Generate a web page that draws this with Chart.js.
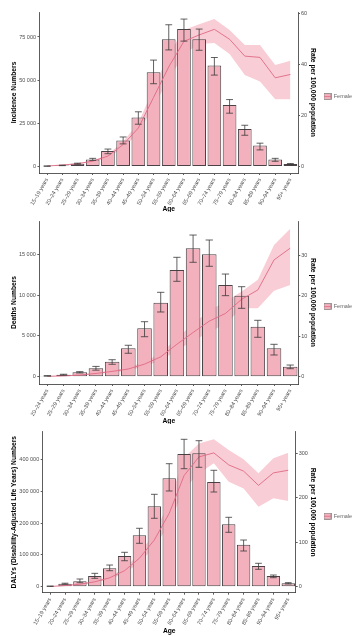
<!DOCTYPE html>
<html>
<head>
<meta charset="utf-8">
<script src="https://cdn.jsdelivr.net/npm/chart.js@4.4.1/dist/chart.umd.min.js"></script>
<style>
    body { margin: 0; background: #fff; }
    canvas { display: block; }
</style>
</head>
<body>
<canvas id="incidenceChart" width="359" height="212"></canvas>
<canvas id="deathsChart" width="359" height="212"></canvas>
<canvas id="dalysChart" width="359" height="212"></canvas>
<script>
// Age groups (deaths start at 20-24)
const ageGroups = ['15–19 years', '20–24 years', '25–29 years', '30–34 years', '35–39 years',
    '40–44 years', '45–49 years', '50–54 years', '55–59 years', '60–64 years', '65–69 years',
    '70–74 years', '75–79 years', '80–84 years', '85–89 years', '90–94 years', '95+ years'];
const deathAgeGroups = ageGroups.slice(1);

// Incidence
const incidence     = [100, 500, 1500, 4000, 8800, 15000, 28300, 54600, 73700, 79600, 73700, 58500, 35500, 21700, 12000, 4000, 1300];
const incidenceLow  = [60, 380, 1200, 3400, 7300, 13000, 24400, 47900, 67500, 72600, 67300, 52900, 30800, 18000, 9500, 2900, 1000];
const incidenceHigh = [140, 620, 1800, 4600, 10000, 17000, 31600, 61600, 82100, 85400, 79600, 63100, 38700, 23800, 13400, 4600, 1600];
const incidenceRate     = [0.1, 0.5, 1.0, 2.0, 4.0, 8.5, 15, 27, 39, 49, 51.5, 53.7, 49.8, 43.2, 42.7, 34.7, 36];
const incidenceRateLow  = [0.08, 0.4, 0.85, 1.7, 3.4, 7.3, 13, 23.5, 34, 44, 48, 48.3, 44, 35.8, 33.2, 26.3, 26.3];
const incidenceRateHigh = [0.12, 0.6, 1.15, 2.3, 4.6, 9.7, 17, 30.5, 44, 53.4, 55.7, 57.8, 53.4, 47.6, 47.6, 39.7, 41.4];
const incidenceTicks = [0, 25000, 50000, 75000];
const incidenceRateTicks = [0, 20, 40, 60];

// Deaths
const deaths     = [100, 250, 540, 1030, 1840, 3480, 5930, 9070, 13070, 15730, 15000, 11240, 9930, 6130, 3480, 1230];
const deathsLow  = [70, 200, 460, 800, 1520, 2870, 4900, 7930, 11690, 14020, 13530, 9930, 8380, 4830, 2660, 980];
const deathsHigh = [130, 300, 620, 1260, 2080, 3850, 6740, 10340, 14630, 17360, 16750, 12580, 11030, 6910, 3970, 1430];
const deathsRate     = [0.1, 0.2, 0.4, 0.8, 1.3, 1.9, 3.1, 4.9, 8.0, 10.9, 13.7, 15.6, 19.1, 21.4, 28.8, 31.7];
const deathsRateLow  = [0.08, 0.16, 0.33, 0.65, 1.05, 1.55, 2.5, 4.0, 6.5, 8.8, 11.0, 13.0, 16.9, 16.9, 21.2, 22.6];
const deathsRateHigh = [0.12, 0.24, 0.48, 0.95, 1.55, 2.3, 3.7, 5.8, 9.5, 13.0, 16.3, 18.5, 21.0, 23.9, 32.5, 36.5];
const deathsTicks = [0, 5000, 10000, 15000];
const deathsRateTicks = [0, 10, 20, 30];

// DALYs
const dalys     = [1500, 9400, 17000, 33600, 57800, 96400, 161400, 252400, 340300, 416600, 418800, 328700, 195900, 131900, 65000, 33600, 10700];
const dalysLow  = [1000, 7800, 12600, 26400, 50200, 81600, 136300, 214800, 300500, 370500, 374900, 297300, 170800, 112100, 54600, 28300, 8700];
const dalysHigh = [2000, 11000, 24200, 42000, 68100, 108000, 183400, 290100, 386200, 462800, 458400, 365500, 217900, 146600, 73500, 36700, 12700];
const dalysRate     = [0.5, 2.5, 5.5, 11, 20, 36, 64, 105, 165, 250, 292, 301, 274, 260, 228, 256, 262];
const dalysRateLow  = [0.4, 2.1, 4.6, 9.3, 17, 30.5, 54, 89, 140, 220, 255, 277.6, 236, 221, 180, 199, 193];
const dalysRateHigh = [0.6, 2.9, 6.4, 12.7, 23, 41.5, 74, 121, 190, 290, 322, 331.6, 307.5, 286.6, 255, 289, 301.5];
const dalysTicks = [0, 100000, 200000, 300000, 400000];
const dalysRateTicks = [0, 100, 200, 300];

const FONT = "'Liberation Sans', Arial, sans-serif";
const barFill = '#F3B1BD';
const barEdge = '#4a4246';
const lineColor = '#E06A84';
const ribbonFill = '#F9CDD6';
const axisColor = '#333333';
const tickColor = '#4d4d4d';

function spaced(v) {
    return String(v).replace(/\B(?=(\d{3})+(?!\d))/g, ' ');
}

// legend key: pink box with the rate line through it
function legendKey() {
    const c = document.createElement('canvas');
    c.width = 8; c.height = 7;
    const g = c.getContext('2d');
    g.fillStyle = barFill;
    g.fillRect(0.5, 0.5, 7, 6);
    g.strokeStyle = '#777';
    g.lineWidth = 0.7;
    g.strokeRect(0.5, 0.5, 7, 6);
    g.strokeStyle = lineColor;
    g.lineWidth = 0.8;
    g.beginPath();
    g.moveTo(0.5, 3.5);
    g.lineTo(7.5, 3.5);
    g.stroke();
    return c;
}

const errorBars = {
    id: 'errorBars',
    afterDatasetsDraw(chart) {
        const ds = chart.data.datasets[0];
        const meta = chart.getDatasetMeta(0);
        const yScale = chart.scales.y;
        const ctx = chart.ctx;
        ctx.save();
        ctx.strokeStyle = '#3a3a3a';
        ctx.lineWidth = 0.8;
        meta.data.forEach((bar, i) => {
            const top = yScale.getPixelForValue(ds.high[i]);
            const bot = yScale.getPixelForValue(ds.low[i]);
            const half = bar.width * 0.25;
            ctx.beginPath();
            ctx.moveTo(bar.x, top); ctx.lineTo(bar.x, bot);
            ctx.moveTo(bar.x - half, top); ctx.lineTo(bar.x + half, top);
            ctx.moveTo(bar.x - half, bot); ctx.lineTo(bar.x + half, bot);
            ctx.stroke();
        });
        ctx.restore();
    }
};

function makePanel(id, p) {
    const key = legendKey();
    new Chart(document.getElementById(id), {
        type: 'bar',
        data: {
            labels: p.labels,
            datasets: [
                {
                    type: 'bar', label: 'Female', data: p.counts, low: p.low, high: p.high,
                    yAxisID: 'y', backgroundColor: barFill, borderColor: barEdge, borderWidth: 1,
                    borderSkipped: false, barPercentage: 0.9, categoryPercentage: 1, order: 2
                },
                {
                    type: 'line', label: 'rate', data: p.rate, yAxisID: 'y1',
                    borderColor: lineColor, borderWidth: 0.9, pointRadius: 0, tension: 0, fill: false, order: 1
                },
                {
                    type: 'line', label: 'upper', data: p.rateHigh, yAxisID: 'y1',
                    borderWidth: 0, pointRadius: 0, tension: 0, fill: '+1', backgroundColor: ribbonFill, order: 3
                },
                {
                    type: 'line', label: 'lower', data: p.rateLow, yAxisID: 'y1',
                    borderWidth: 0, pointRadius: 0, tension: 0, fill: false, order: 4
                }
            ]
        },
        options: {
            responsive: false,
            animation: false,
            layout: { padding: { top: p.top, left: 0, right: 0, bottom: 0 } },
            plugins: {
                filler: { drawTime: 'beforeDatasetsDraw' },
                tooltip: { enabled: false },
                legend: {
                    position: 'right',
                    fullSize: false,
                    maxWidth: 35,
                    title: { display: true, text: '', font: { size: 6.7, family: FONT }, padding: 0 },
                    labels: {
                        usePointStyle: true,
                        pointStyleWidth: 7,
                        padding: 0,
                        color: '#222',
                        font: { size: 5.5, family: FONT },
                        generateLabels: () => [{
                            text: 'Female', pointStyle: key, fillStyle: barFill,
                            strokeStyle: barEdge, lineWidth: 0, hidden: false, datasetIndex: 0
                        }]
                    }
                }
            },
            scales: {
                x: {
                    type: 'category',
                    offset: true,
                    grid: { display: true, offset: false, drawOnChartArea: false, drawTicks: true, tickLength: 2, color: axisColor, lineWidth: 0.8 },
                    border: { display: true, color: axisColor, width: 0.8 },
                    ticks: { autoSkip: false, minRotation: 60, maxRotation: 60, padding: 2, color: tickColor, font: { size: 5.5, family: FONT } },
                    title: { display: true, text: 'Age', color: '#000', font: { size: 6.7, weight: 'bold', family: FONT, lineHeight: 1 }, padding: { top: 0, bottom: p.ageGap } },
                    afterFit: s => { s.height = p.xHeight; }
                },
                y: {
                    position: 'left',
                    min: p.yMin, max: p.yMax,
                    grid: { display: true, drawOnChartArea: false, drawTicks: true, tickLength: 2, color: axisColor, lineWidth: 0.8 },
                    border: { display: true, color: axisColor, width: 0.8 },
                    afterBuildTicks: s => { s.ticks = p.leftTicks.map(v => ({ value: v })); },
                    ticks: { padding: 1.5, color: tickColor, font: { size: 5.5, family: FONT }, callback: v => spaced(v) },
                    title: { display: true, text: p.leftTitle, color: '#000', font: { size: 6.7, weight: 'bold', family: FONT }, padding: { top: 10, bottom: 0 } },
                    afterFit: s => { s.width = p.left; }
                },
                y1: {
                    position: 'right',
                    min: p.rMin, max: p.rMax,
                    grid: { display: true, drawOnChartArea: false, drawTicks: true, tickLength: 2, color: axisColor, lineWidth: 0.8 },
                    border: { display: true, color: axisColor, width: 0.8 },
                    afterBuildTicks: s => { s.ticks = p.rightTicks.map(v => ({ value: v })); },
                    ticks: { padding: 1, color: tickColor, font: { size: 5.5, family: FONT }, callback: v => String(v) },
                    title: { display: true, text: 'Rate per 100,000 population', color: '#000', font: { size: 6.7, weight: 'bold', family: FONT }, padding: { top: 7, bottom: 0 } },
                    afterFit: s => { s.width = 324 - p.right; }
                }
            }
        },
        plugins: [errorBars]
    });
}

makePanel('incidenceChart', {
    labels: ageGroups, counts: incidence, low: incidenceLow, high: incidenceHigh,
    rate: incidenceRate, rateLow: incidenceRateLow, rateHigh: incidenceRateHigh,
    leftTicks: incidenceTicks, rightTicks: incidenceRateTicks,
    leftTitle: 'Incidence Numbers',
    yMin: -3895, yMax: 89500, rMin: -2.63, rMax: 60.5,
    top: 12, left: 39.5, right: 298, xHeight: 39, ageGap: 0
});

makePanel('deathsChart', {
    labels: deathAgeGroups, counts: deaths, low: deathsLow, high: deathsHigh,
    rate: deathsRate, rateLow: deathsRateLow, rateHigh: deathsRateHigh,
    leftTicks: deathsTicks, rightTicks: deathsRateTicks,
    leftTitle: 'Deaths Numbers',
    yMin: -895, yMax: 19080, rMin: -1.8, rMax: 38.4,
    top: 9, left: 39.3, right: 298.3, xHeight: 40, ageGap: 0
});

makePanel('dalysChart', {
    labels: ageGroups, counts: dalys, low: dalysLow, high: dalysHigh,
    rate: dalysRate, rateLow: dalysRateLow, rateHigh: dalysRateHigh,
    leftTicks: dalysTicks, rightTicks: dalysRateTicks,
    leftTitle: 'DALYs (Disability-Adjusted Life Years) Numbers',
    yMin: -18800, yMax: 486660, rMin: -13.5, rMax: 348.7,
    top: 7.7, left: 42.7, right: 295.7, xHeight: 43.3, ageGap: 2
});
</script>
</body>
</html>
